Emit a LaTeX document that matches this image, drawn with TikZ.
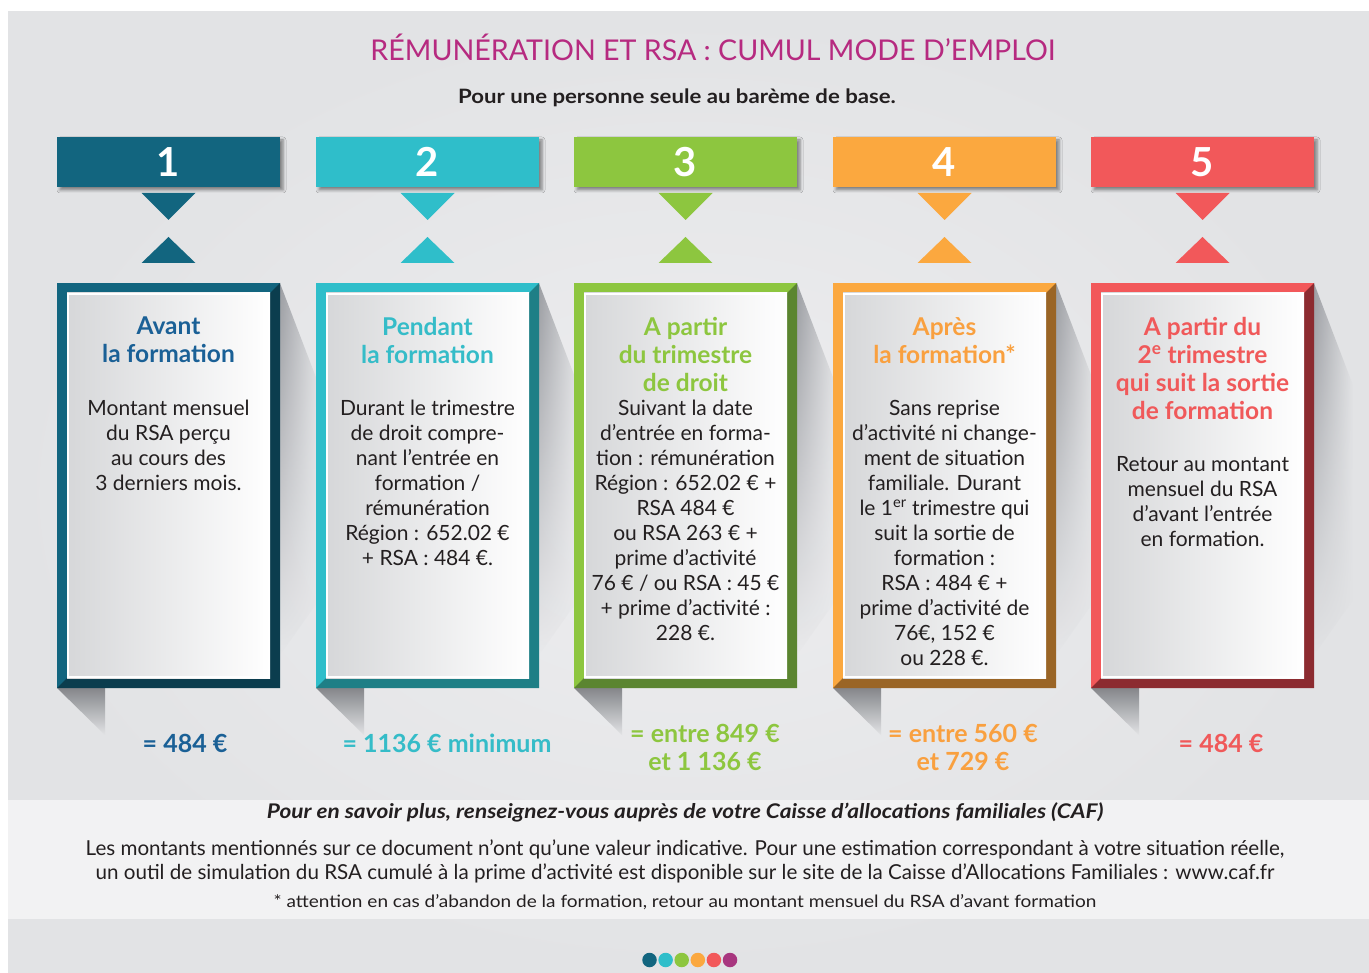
\documentclass[tikz,border=0pt]{standalone}
\usepackage{fontspec}
\setmainfont{Lato}
\newfontfamily\widefont{Lato}[FakeStretch=1.12]
\usetikzlibrary{shadows.blur,fadings}
\definecolor{bgA}{HTML}{EEEEF0}
\definecolor{bgB}{HTML}{E2E3E5}
\definecolor{foot}{HTML}{F2F2F3}
\definecolor{ink}{HTML}{231F20}
\definecolor{titlec}{HTML}{B62A80}
\definecolor{shd}{HTML}{9C9EA3}
\definecolor{panelL}{HTML}{D6D7D9}
\definecolor{cA}{HTML}{12657F}\definecolor{cAd}{HTML}{0B3D4E}\definecolor{cAt}{HTML}{1A6096}
\definecolor{cB}{HTML}{2FBECA}\definecolor{cBd}{HTML}{1E7F86}\definecolor{cBt}{HTML}{35BCC8}
\definecolor{cC}{HTML}{8DC63F}\definecolor{cCd}{HTML}{5B8530}\definecolor{cCt}{HTML}{8DC63F}
\definecolor{cD}{HTML}{FBA83F}\definecolor{cDd}{HTML}{9A6526}\definecolor{cDt}{HTML}{F9A03F}
\definecolor{cE}{HTML}{F2585A}\definecolor{cEd}{HTML}{8C2B30}\definecolor{cEt}{HTML}{F0595A}
\definecolor{cF}{HTML}{A8367F}
\tikzset{
  hdr/.style={inner sep=0, minimum width=223, minimum height=50, text=white,
    font=\bfseries\fontsize{40}{40}\selectfont,
    blur shadow={shadow xshift=3pt, shadow yshift=-3pt, shadow opacity=45, shadow blur radius=3pt}},
  head/.style={anchor=north, align=center, inner sep=0, font=\bfseries\fontsize{24.5}{28}\selectfont},
  body/.style={anchor=north, align=center, inner sep=0, text=ink, font=\fontsize{21}{25}\selectfont},
  val/.style={align=center, inner sep=0, font=\bfseries\fontsize{25}{28}\selectfont},
  dot/.style={circle, inner sep=0, minimum size=14.5}
}
\newcommand\mkcol[5]{%
  % #1 suffix, #2 left x, #3 main, #4 dark, #5 number
  \shade[left color=shd, right color=bgB, path fading=south]
     (#2+223,283) -- (#2+262,385) -- (#2+262,600) -- (#2+223,655) -- cycle;
  \shade[top color=shd!85!black, bottom color=bgB]
     (#2,688) -- (#2+48,688) -- (#2+48,735) -- cycle;
  \node[hdr, fill=#3] (h#1) at (#2+111.5,162) {#5};
  \fill[#3] (#2+84.5,193) -- (#2+138.5,193) -- (#2+111.5,220) -- cycle;
  \fill[#3] (#2+111.5,237) -- (#2+138.5,263) -- (#2+84.5,263) -- cycle;
  \fill[#3] (#2,283) rectangle (#2+223,688);
  \fill[#4] (#2+223,283) -- (#2+223,688) -- (#2,688) -- (#2+10,678) -- (#2+213,678) -- (#2+213,293) -- cycle;
  \shade[left color=panelL, right color=white] (#2+10,293) rectangle (#2+213,678);
  \draw[white, line width=2] (#2+11,294) rectangle (#2+212,677);
}
\begin{document}
\begin{tikzpicture}[x=1pt, y=-1pt]
\useasboundingbox (0,0) rectangle (1369,973);
\fill[white] (0,0) rectangle (1369,973);
\shade[inner color=bgA, outer color=bgB] (8,12) rectangle (1369,973);
\fill[foot] (8,800) rectangle (1369,919);

\node[text=titlec, font=\fontsize{28.6}{30}\selectfont] (title) at (713,47) {RÉMUNÉRATION ET RSA : CUMUL MODE D’EMPLOI};
\node[text=ink, font=\widefont\bfseries\fontsize{19.8}{20}\selectfont] (sub) at (677,98) {Pour une personne seule au barème de base.};

\mkcol{1}{57}{cA}{cAd}{1}
\mkcol{2}{316}{cB}{cBd}{2}
\mkcol{3}{574}{cC}{cCd}{3}
\mkcol{4}{833}{cD}{cDd}{4}
\mkcol{5}{1091}{cE}{cEd}{5}

% column 1
\node[head, text=cAt] (t1) at (168.5,317) {Avant\\la formation};
\node[body] (b1) at (168.5,400) {Montant mensuel\\du RSA perçu\\au cours des\\3 derniers mois.};
\node[val, text=cAt] (v1) at (185,743) {= 484 €};
% column 2
\node[head, text=cBt] (t2) at (427.5,317) {Pendant\\la formation};
\node[body] (b2) at (427.5,400) {Durant le trimestre\\de droit compre-\\nant l’entrée en\\formation /\\rémunération\\Région : 652.02 €\\+ RSA : 484 €.};
\node[val, text=cBt] (v2) at (447,743) {= 1136 € minimum};
% column 3
\node[head, text=cCt] (t3) at (685.5,317) {A partir\\du trimestre\\de droit};
\node[body] (b3) at (685.5,400) {Suivant la date\\d’entrée en forma-\\tion : rémunération\\Région : 652.02 € +\\RSA 484 €\\ou RSA 263 € +\\prime d’activité\\76 € / ou RSA : 45 €\\+ prime d’activité :\\228 €.};
\node[val, text=cCt] (v3) at (705,747) {= entre 849 €\\et 1 136 €};
% column 4
\node[head, text=cDt] (t4) at (944.5,317) {Après\\la formation*};
\node[body] (b4) at (944.5,400) {Sans reprise\\d’activité ni change-\\ment de situation\\familiale. Durant\\le 1\textsuperscript{er} trimestre qui\\suit la sortie de\\formation :\\RSA : 484 € +\\prime d’activité de\\76€, 152 €\\ou 228 €.};
\node[val, text=cDt] (v4) at (963,747) {= entre 560 €\\et 729 €};
% column 5
\node[head, text=cEt] (t5) at (1202.5,317) {A partir du\\2\textsuperscript{e} trimestre\\qui suit la sortie\\de formation};
\node[body] (b5) at (1202.5,456) {Retour au montant\\mensuel du RSA\\d’avant l’entrée\\en formation.};
\node[val, text=cEt] (v5) at (1221,743) {= 484 €};

% footer
\node[text=ink, font=\widefont\bfseries\itshape\fontsize{20.2}{20}\selectfont] (f1) at (685,812) {Pour en savoir plus, renseignez-vous auprès de votre Caisse d’allocations familiales (CAF)};
\node[text=ink, align=center, font=\fontsize{20.6}{24}\selectfont] (f2) at (685,861) {Les montants mentionnés sur ce document n’ont qu’une valeur indicative. Pour une estimation correspondant à votre situation réelle,\\un outil de simulation du RSA cumulé à la prime d’activité est disponible sur le site de la Caisse d’Allocations Familiales : www.caf.fr};
\node[text=ink, font=\widefont\fontsize{17}{17}\selectfont] (f3) at (685,902) {* attention en cas d’abandon de la formation, retour au montant mensuel du RSA d’avant formation};

% dots
\node[dot, fill=cA] (d1) at (649.5,960) {};
\node[dot, fill=cB] (d2) at (665.6,960) {};
\node[dot, fill=cC] (d3) at (681.7,960) {};
\node[dot, fill=cD] (d4) at (697.8,960) {};
\node[dot, fill=cE] (d5) at (713.9,960) {};
\node[dot, fill=cF] (d6) at (730.0,960) {};
\end{tikzpicture}
\end{document}
